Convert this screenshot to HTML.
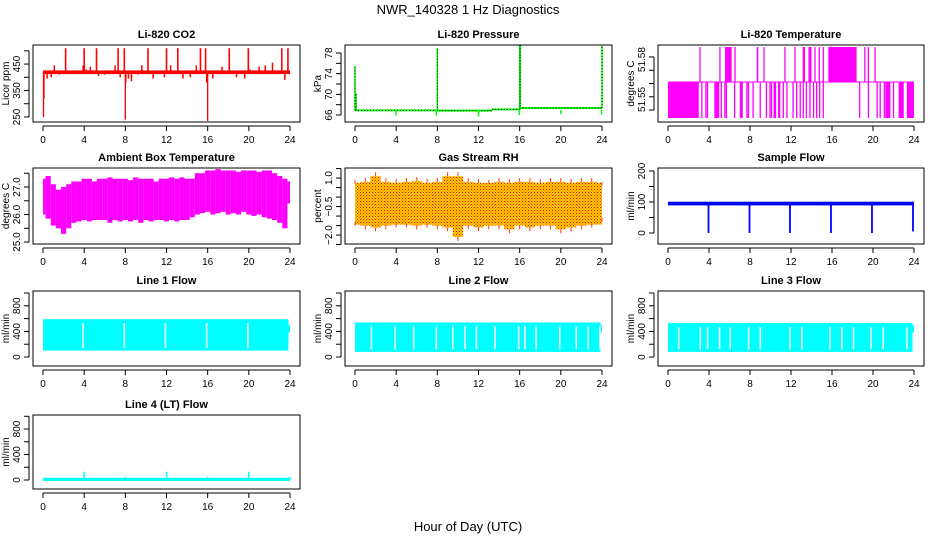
<!DOCTYPE html>
<html><head><meta charset="utf-8"><title>NWR_140328 1 Hz Diagnostics</title>
<style>
html,body{margin:0;padding:0;background:#fff;}
svg{display:block;font-family:"Liberation Sans",Arial,sans-serif;}
</style></head>
<body>
<svg id="chart" width="936" height="540" viewBox="0 0 936 540">
<defs>
<pattern id="rhdots" width="3" height="3" patternUnits="userSpaceOnUse">
<rect width="3" height="3" fill="#ffcc00"/><rect x="0" y="0" width="1" height="1" fill="#ff0000"/><rect x="1.5" y="1.5" width="1" height="1" fill="#ff3300"/>
</pattern>
</defs>
<text x="468" y="14" font-size="13" text-anchor="middle">NWR_140328  1 Hz Diagnostics</text>
<text x="468" y="531" font-size="13" text-anchor="middle">Hour of Day (UTC)</text>
</svg>
<script>
// ---------- data ----------
const hourTicks = [0,4,8,12,16,20,24];
// CO2
const co2Base = 420;
const co2UpSpikeHours = [2.2,4.0,5.2,7.3,7.9,10.2,12.0,13.1,15.3,15.8,18.1,19.95,23.2,23.8];
const co2UpSpikeValues = [510,510,510,510,510,510,510,510,510,510,510,510,510,510];
const co2SmallHours = [0.4,0.8,1.1,1.6,3.9,4.2,4.6,5.4,6.0,7.0,7.5,8.3,8.6,9.2,9.6,10.7,11.8,12.4,13.6,14.3,14.9,16.5,17.4,18.8,19.6,20.1,21.0,21.6,22.3,23.5];
const co2SmallValues = [395,400,445,410,445,430,440,405,410,445,400,395,385,410,445,395,400,445,395,400,445,395,440,400,395,430,440,445,455,390];
const co2DownHours = [0.05,0.1,8.0,8.05,16.0,15.9];
const co2DownValues = [250,320,240,380,235,380];
// Pressure
const presSegStart = [0,7.9,13.3,16.0];
const presSegEnd = [7.9,13.3,16.0,24];
const presSegValue = [66.9,66.85,67.1,67.35];
const presSpikeHours = [0.0,0.1,8.0,16.0,16.05,24.0];
const presSpikeValues = [75.5,70.2,79.0,79.5,79.5,79.6];
const presDipHours = [4.0,7.9,12.0,15.95,20.0,23.95];
const presDipValues = [65.9,65.9,65.7,66.0,66.2,66.1];
// Li-820 temperature
const tempLevels = [51.534,51.5611,51.5875];
const tempLowBands = [[0,3.0],[4.52,5.0],[7.0,7.3],[10.3,10.55],[21.2,21.7],[22.5,23.0],[23.3,24.0]];
const tempLowSpikes = [3.3,3.7,3.85,5.2,5.55,5.7,6.5,7.7,7.85,8.3,9.0,9.6,9.95,10.1,10.8,10.9,11.25,11.6,12.2,12.55,12.9,13.2,13.5,13.85,14.2,14.5,14.8,15.15,18.7,19.55,20.4,20.7,21.1,22.0];
const tempHighBands = [[5.56,6.21],[8.65,8.81],[13.14,13.37],[13.7,14.0],[15.64,18.4]];
const tempHighSpikes = [3.12,5.07,6.54,9.37,11.41,12.39,14.34,14.76,15.15,19.2,19.55,20.2];
// Ambient box temperature (half-hourly envelope)
const ambHours = [0,0.5,1,1.5,2,2.5,3,3.5,4,4.5,5,5.5,6,6.5,7,7.5,8,8.5,9,9.5,10,10.5,11,11.5,12,12.5,13,13.5,14,14.5,15,15.5,16,16.5,17,17.5,18,18.5,19,19.5,20,20.5,21,21.5,22,22.5,23,23.5,24];
const ambMax = [27.3,27.4,27.1,26.9,27.0,27.1,27.2,27.2,27.3,27.3,27.2,27.3,27.3,27.35,27.3,27.3,27.3,27.25,27.35,27.3,27.3,27.3,27.2,27.3,27.3,27.35,27.3,27.35,27.3,27.3,27.5,27.5,27.6,27.6,27.65,27.6,27.6,27.6,27.55,27.6,27.6,27.6,27.55,27.6,27.6,27.5,27.4,27.3,27.2];
const ambMin = [26.0,25.85,25.6,25.5,25.3,25.5,25.7,25.75,25.8,25.75,25.8,25.8,25.8,25.7,25.8,25.75,25.8,25.75,25.8,25.7,25.8,25.75,25.8,25.8,25.75,25.8,25.75,25.8,25.8,25.9,26.0,26.05,26.1,26.0,26.05,26.1,26.0,26.05,26.0,26.1,26.0,25.95,26.0,25.9,25.85,25.8,25.7,25.5,26.4];
// Gas stream RH
const rhHours = [0,1,2,3,4,5,6,7,8,9,10,11,12,13,14,15,16,17,18,19,20,21,22,23,24];
const rhMax = [0.9,1.0,1.3,1.0,0.95,1.0,1.05,0.95,1.0,1.3,1.3,1.0,0.95,0.9,1.0,0.95,1.0,1.0,0.95,1.0,1.0,0.95,1.0,1.0,0.8];
const rhMin = [-1.5,-1.7,-1.8,-1.7,-1.6,-1.6,-1.7,-1.6,-1.7,-1.8,-2.3,-1.7,-1.8,-1.7,-1.7,-1.9,-1.7,-1.8,-1.7,-1.7,-1.9,-1.8,-1.7,-1.6,-1.3];
// Sample flow
const sfBase = 95;
const sfDropHours = [3.95,7.95,11.9,15.9,19.9,23.9];
const sfDropValues = [0,0,0,0,0,5];
// Line flows
const l1Top = 590, l1Bottom = 100;
const l1GapHours = [3.9,7.9,11.9,15.9,19.9];
const l2Top = 540, l2Bottom = 80;
const l2GapHours = [1.6,3.9,5.7,7.9,9.5,10.7,11.8,13.6,15.9,16.5,17.6,19.9,21.5,22.65,23.8];
const l3Top = 530, l3Bottom = 80;
const l3GapHours = [1.04,3.15,3.86,5.03,6.07,7.86,9.0,11.9,13.05,15.8,16.95,18.1,19.8,21.0,23.3];
const l4Base = 10;
const l4SpikeHours = [4.0,8.0,12.0,16.0,20.0,24.0];
const l4SpikeValues = [130,50,130,50,130,50];

// ---------- layout ----------
const colX0 = [43,355,668], colX24 = [290,602,914];
const rowTop = [45,168,291,415], rowBot = [122,244,366,489];
const NS = 'http://www.w3.org/2000/svg';
const svg = document.getElementById('chart');
function mk(tag, attrs, parent){
  const e = document.createElementNS(NS, tag);
  for (const k in attrs) e.setAttribute(k, attrs[k]);
  (parent||svg).appendChild(e);
  return e;
}
function makePanel(col,row,title,ylab,dom,ticks,labels,labelVals){
  const g = mk('g',{});
  
  
  const x0 = colX0[col], x24 = colX24[col];
  const L = x0-10, R = x24+10, T = rowTop[row], B = rowBot[row];
  const sx = h => x0 + (h/24)*(x24-x0);
  const sy = v => B - (v-dom[0])/(dom[1]-dom[0])*(B-T);
  const data = mk('g',{'clip-path':'url(#clip'+col+row+')'},g);
  
  
  const cp = mk('clipPath',{id:'clip'+col+row},svg.querySelector('defs'));
  mk('rect',{x:L,y:T,width:R-L,height:B-T},cp);
  const fr = mk('rect',{x:L,y:T,width:R-L,height:B-T,fill:'none',stroke:'#000','stroke-width':1},g);
  
  
  const tt = mk('text',{x:(L+R)/2,y:T-7,'font-size':11,'font-weight':'bold','text-anchor':'middle'},g);
  tt.textContent = title;
  
  
  const xa = mk('g',{},g);
  
  
  mk('line',{x1:sx(0),x2:sx(24),y1:B+4,y2:B+4,stroke:'#000'},xa);
  hourTicks.forEach(h=>{
    mk('line',{x1:sx(h),x2:sx(h),y1:B+4,y2:B+9,stroke:'#000'},xa);
    const t = mk('text',{x:sx(h),y:B+21,'font-size':10,'text-anchor':'middle'},xa);
    t.textContent = h;
    
    
  });
  const ya = mk('g',{},g);
  
  
  mk('line',{x1:L-4,x2:L-4,y1:sy(ticks[0]),y2:sy(ticks[ticks.length-1]),stroke:'#000'},ya);
  ticks.forEach(v=>{ mk('line',{x1:L-9,x2:L-4,y1:sy(v),y2:sy(v),stroke:'#000'},ya); });
  labels.forEach((lb,i)=>{
    const y = sy(labelVals[i]);
    const t = mk('text',{x:L-13,y:y,'font-size':10,'text-anchor':'middle',transform:'rotate(-90 '+(L-13)+' '+y+')'},ya);
    t.textContent = lb;
    
    
  });
  const yt = mk('text',{x:L-24,y:(T+B)/2,'font-size':10,'text-anchor':'middle',transform:'rotate(-90 '+(L-24)+' '+((T+B)/2)+')'},g);
  yt.textContent = ylab;
  
  
  return {g:data,sx,sy};
}
function vline(p,h,v1,v2,color,w,name){
  const e = mk('line',{x1:p.sx(h),x2:p.sx(h),y1:p.sy(v1),y2:p.sy(v2),stroke:color,'stroke-width':w||1},p.g);
  
  
  return e;
}
function hband(p,h1,h2,v1,v2,fill,name){
  const x1=p.sx(h1),x2=p.sx(h2),y1=p.sy(v2),y2=p.sy(v1);
  const e = mk('rect',{x:Math.min(x1,x2),y:Math.min(y1,y2),width:Math.abs(x2-x1),height:Math.abs(y2-y1),fill:fill},p.g);
  
  
  return e;
}

// Panel 1: CO2
(function(){
  const p = makePanel(0,0,'Li-820 CO2','Licor ppm',[231,522],[250,300,350,400,450,500],['250','350','450'],[250,350,450]);
  hband(p,0,24,co2Base-8,co2Base+6,'#ff0000','co2-baseline');
  co2SmallHours.forEach((h,i)=>vline(p,h,co2Base,co2SmallValues[i],'#ff0000',1.5,'co2-small-spike'));
  co2UpSpikeHours.forEach((h,i)=>vline(p,h,co2Base,co2UpSpikeValues[i],'#ff0000',1.6,'co2-up-spike'));
  co2DownHours.forEach((h,i)=>vline(p,h,co2Base,co2DownValues[i],'#ff0000',1.3,'co2-down-spike'));
})();
// Panel 2: Pressure
(function(){
  const p = makePanel(1,0,'Li-820 Pressure','kPa',[64.65,79.55],[66,68,70,72,74,76,78],['66','70','74','78'],[66,70,74,78]);
  presSegStart.forEach((s,i)=>{
    const e = mk('line',{x1:p.sx(s),x2:p.sx(presSegEnd[i]),y1:p.sy(presSegValue[i]),y2:p.sy(presSegValue[i]),stroke:'#00ff00','stroke-width':2},p.g);
    
    
    const d = mk('line',{x1:p.sx(s),x2:p.sx(presSegEnd[i]),y1:p.sy(presSegValue[i]),y2:p.sy(presSegValue[i]),stroke:'#000','stroke-width':1,'stroke-dasharray':'1 2'},p.g);
    
    
  });
  presSpikeHours.forEach((h,i)=>{
    vline(p,h,presSegValue[Math.min(3,Math.floor(h/8))],presSpikeValues[i],'#00ff00',1.5,'pressure-spike');
    const d = vline(p,h,presSegValue[Math.min(3,Math.floor(h/8))],presSpikeValues[i],'#000',1,'pressure-spike-dots');
    d.setAttribute('stroke-dasharray','1 2');
  });
  presDipHours.forEach((h,i)=>vline(p,h,67,presDipValues[i],'#00ff00',1.5,'pressure-dip'));
})();
// Panel 3: Li-820 Temperature
(function(){
  const p = makePanel(2,0,'Li-820 Temperature','degrees C',[51.531,51.589],[51.54,51.55,51.56,51.57,51.58],['51.55','51.58'],[51.548,51.578]);
  const [lo,mid,hi] = tempLevels;
  const m = mk('line',{x1:p.sx(0),x2:p.sx(24),y1:p.sy(mid),y2:p.sy(mid),stroke:'#ff00ff'},p.g);
  
  
  tempLowBands.forEach(b=>hband(p,b[0],b[1],lo,mid,'#ff00ff','temp-low-band'));
  tempHighBands.forEach(b=>hband(p,b[0],b[1],mid,hi,'#ff00ff','temp-high-band'));
  tempLowSpikes.forEach(h=>vline(p,h,mid,lo,'#ff00ff',1.3,'temp-low-spike'));
  tempHighSpikes.forEach(h=>vline(p,h,mid,hi,'#ff00ff',1.3,'temp-high-spike'));
})();
// Panel 4: Ambient box temperature
(function(){
  const p = makePanel(0,1,'Ambient Box Temperature','degrees C',[24.93,27.69],[25,25.5,26,26.5,27,27.5],['25.0','26.0','27.0'],[25,26,27]);
  ambHours.forEach((h,i)=>{
    const h1 = Math.max(0,h-0.25), h2 = Math.min(24,h+0.25);
    hband(p,h1,h2,ambMin[i],ambMax[i],'#ff00ff','ambient-band');
  });
})();
// Panel 5: Gas stream RH
(function(){
  const p = makePanel(1,1,'Gas Stream RH','percent',[-2.47,1.53],[-2.5,-2,-1.5,-1,-0.5,0,0.5,1,1.5],['\u22122.0','\u22120.5','1.0'],[-2,-0.5,1]);
  hband(p,0,24,-1.45,0.75,'url(#rhdots)','rh-core-band');
  rhHours.forEach((h,i)=>{
    const h1 = Math.max(0,h-0.5), h2 = Math.min(24,h+0.5);
    hband(p,h1,h2,rhMin[i]+0.2,rhMax[i]-0.2,'url(#rhdots)','rh-band');
    vline(p,h,rhMax[i]-0.2,rhMax[i],'#ff3300',1,'rh-max-spike');
    vline(p,h,rhMin[i]+0.2,rhMin[i],'#ff3300',1,'rh-min-spike');
  });
})();
// Panel 6: Sample flow
(function(){
  const p = makePanel(2,1,'Sample Flow','ml/min',[-35.5,209.7],[0,50,100,150,200],['0','100','200'],[0,100,200]);
  hband(p,0,24,sfBase-6,sfBase+6,'#0000ff','sample-flow-line');
  sfDropHours.forEach((h,i)=>vline(p,h,sfBase,sfDropValues[i],'#0000ff',1.8,'sample-flow-drop'));
})();
// Line flows
function linePanel(col,row,title,top,bottom,gaps,name){
  const p = makePanel(col,row,title,'ml/min',[-140,1031],[0,200,400,600,800,1000],['0','400','800'],[0,400,800]);
  hband(p,0,23.85,bottom,top,'#00ffff',name+'-band');
  hband(p,23.85,24,380,500,'#00ffff',name+'-end');
  gaps.forEach(h=>vline(p,h,bottom+40,top-60,'#ffffff',1.5,name+'-gap'));
}
linePanel(0,2,'Line 1 Flow',l1Top,l1Bottom,l1GapHours,'line1');
linePanel(1,2,'Line 2 Flow',l2Top,l2Bottom,l2GapHours,'line2');
linePanel(2,2,'Line 3 Flow',l3Top,l3Bottom,l3GapHours,'line3');
(function(){
  const p = makePanel(0,3,'Line 4 (LT) Flow','ml/min',[-141,1020],[0,200,400,600,800,1000],['0','400','800'],[0,400,800]);
  hband(p,0,24,l4Base-25,l4Base+25,'#00ffff','line4-level');
  l4SpikeHours.forEach((h,i)=>vline(p,h,l4Base,l4SpikeValues[i],'#00ffff',1.5,'line4-spike'));
})();
</script>
</body></html>
